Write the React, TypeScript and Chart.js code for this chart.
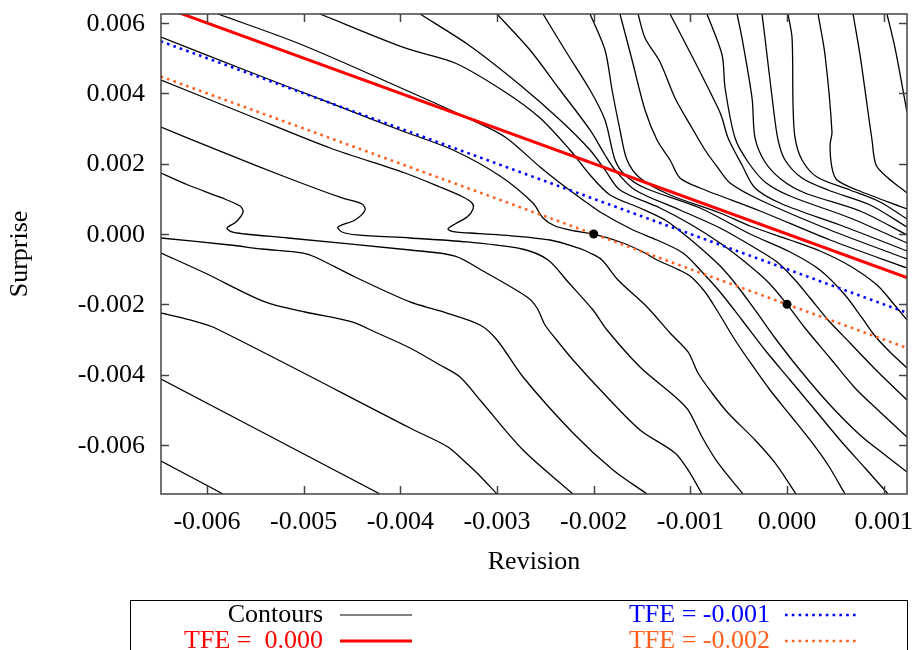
import React, { useEffect, useRef } from 'react';
import { Chart, registerables } from 'chart.js';

Chart.register(...registerables);

// ---------------- data ----------------
const xTickValues = [-0.006, -0.005, -0.004, -0.003, -0.002, -0.001, 0, 0.001];
const yTickValues = [-0.006, -0.004, -0.002, 0, 0.002, 0.004, 0.006];
const xRange = [-6.476e-3, 1.241e-3];
const yRange = [-7.393e-3, 6.255e-3];
const xTitle = 'Revision';
const yTitle = 'Surprise';

const contourLabel = 'Contours';
const tfeLabels = ['TFE =  0.000', 'TFE = -0.001', 'TFE = -0.002'];

const tfeZero = [[-6.48e-3, 6.48e-3], [1.25e-3, -1.25e-3]];
const tfeMinus001 = [[-6.48e-3, 5.48e-3], [1.25e-3, -2.25e-3]];
const tfeMinus002 = [[-6.48e-3, 4.48e-3], [1.25e-3, -3.25e-3]];
const optimumPoints = [[-2.0e-3, 0.0], [0.0, -2.0e-3]];

const contour01 = [[-6.476e-3, -6.454e-3], [-5.834e-3, -7.393e-3]];
const contour02 = [[-6.476e-3, -4.123e-3], [-4.210e-3, -7.393e-3]];
const contour03 = [[-6.476e-3, -2.246e-3], [-6.176e-3, -2.445e-3], [-5.917e-3, -2.673e-3], [-3.900e-3, -5.516e-3], [-3.507e-3, -6.056e-3], [-3.352e-3, -6.426e-3], [-3.207e-3, -6.796e-3], [-3.000e-3, -7.393e-3]];
const contour04 = [[-6.476e-3, -0.540e-3], [-6.021e-3, -1.109e-3], [-5.400e-3, -1.933e-3], [-4.986e-3, -2.218e-3], [-4.500e-3, -2.502e-3], [-4.262e-3, -2.787e-3], [-3.900e-3, -3.241e-3], [-3.590e-3, -3.725e-3], [-3.383e-3, -4.066e-3], [-3.176e-3, -4.720e-3], [-2.731e-3, -6.142e-3], [-2.214e-3, -7.393e-3]];
const contour05 = [[-6.476e-3, -0.114e-3], [-5.762e-3, -0.313e-3], [-5.431e-3, -0.427e-3], [-5.017e-3, -0.540e-3], [-4.883e-3, -0.654e-3], [-4.469e-3, -1.223e-3], [-3.900e-3, -1.933e-3], [-3.590e-3, -2.189e-3], [-3.176e-3, -2.587e-3], [-3.000e-3, -3.014e-3], [-2.731e-3, -4.066e-3], [-2.214e-3, -5.658e-3], [-1.800e-3, -6.710e-3], [-1.448e-3, -7.393e-3]];
const contour06 = [[-6.476e-3, 1.734e-3], [-6.196e-3, 1.393e-3], [-5.845e-3, 1.024e-3], [-5.658e-3, 0.796e-3], [-5.627e-3, 0.626e-3], [-5.700e-3, 0.341e-3], [-5.793e-3, 0.171e-3], [-5.741e-3, 0.057e-3], [-5.607e-3, 0.000e-3], [-5.162e-3, -0.114e-3], [-3.900e-3, -0.455e-3], [-3.434e-3, -0.626e-3], [-3.145e-3, -1.052e-3], [-2.690e-3, -1.791e-3], [-2.586e-3, -2.104e-3], [-2.503e-3, -2.587e-3], [-2.400e-3, -2.957e-3], [-2.214e-3, -3.583e-3], [-1.862e-3, -4.635e-3], [-1.521e-3, -5.573e-3], [-1.159e-3, -6.227e-3], [-1.024e-3, -6.710e-3], [-0.879e-3, -7.393e-3]];
const contour07 = [[-6.476e-3, 3.042e-3], [-5.845e-3, 2.332e-3], [-5.162e-3, 1.592e-3], [-4.603e-3, 1.024e-3], [-4.396e-3, 0.853e-3], [-4.365e-3, 0.682e-3], [-4.469e-3, 0.398e-3], [-4.645e-3, 0.199e-3], [-4.603e-3, 0.057e-3], [-4.448e-3, -0.028e-3], [-3.900e-3, -0.114e-3], [-3.310e-3, -0.227e-3], [-2.741e-3, -0.427e-3], [-2.472e-3, -0.739e-3], [-2.265e-3, -1.365e-3], [-2.007e-3, -2.161e-3], [-1.862e-3, -2.730e-3], [-1.521e-3, -3.782e-3], [-1.179e-3, -4.578e-3], [-1.024e-3, -5.004e-3], [-0.879e-3, -5.772e-3], [-0.714e-3, -6.511e-3], [-0.455e-3, -7.393e-3]];
const contour08 = [[-6.476e-3, 4.379e-3], [-5.555e-3, 3.355e-3], [-4.727e-3, 2.445e-3], [-3.952e-3, 1.734e-3], [-3.590e-3, 1.336e-3], [-3.352e-3, 1.052e-3], [-3.259e-3, 0.881e-3], [-3.248e-3, 0.711e-3], [-3.310e-3, 0.483e-3], [-3.434e-3, 0.284e-3], [-3.507e-3, 0.142e-3], [-3.434e-3, 0.057e-3], [-3.279e-3, 0.028e-3], [-2.969e-3, -0.028e-3], [-2.452e-3, -0.171e-3], [-2.162e-3, -0.398e-3], [-2.038e-3, -0.540e-3], [-1.914e-3, -0.739e-3], [-1.748e-3, -1.308e-3], [-1.448e-3, -2.076e-3], [-1.210e-3, -2.815e-3], [-1.024e-3, -3.355e-3], [-0.921e-3, -3.952e-3], [-0.776e-3, -4.521e-3], [-0.610e-3, -5.090e-3], [-0.331e-3, -5.857e-3], [-0.124e-3, -6.511e-3], [0.093e-3, -7.393e-3]];
const contour09 = [[-6.476e-3, 5.601e-3], [-5.555e-3, 4.606e-3], [-4.727e-3, 3.725e-3], [-3.952e-3, 2.900e-3], [-3.455e-3, 2.388e-3], [-2.969e-3, 1.649e-3], [-2.628e-3, 0.881e-3], [-2.524e-3, 0.455e-3], [-2.400e-3, 0.227e-3], [-2.193e-3, 0.085e-3], [-2.007e-3, 0.000e-3], [-1.697e-3, -0.256e-3], [-1.490e-3, -0.512e-3], [-1.345e-3, -0.739e-3], [-1.159e-3, -0.967e-3], [-1.003e-3, -1.194e-3], [-0.848e-3, -1.649e-3], [-0.714e-3, -2.218e-3], [-0.538e-3, -3.014e-3], [-0.362e-3, -3.725e-3], [-0.176e-3, -4.436e-3], [0.031e-3, -5.146e-3], [0.238e-3, -5.857e-3], [0.424e-3, -6.568e-3], [0.600e-3, -7.393e-3]];
const contour10 = [[-5.886e-3, 6.255e-3], [-5.038e-3, 5.402e-3], [-3.900e-3, 4.038e-3], [-3.259e-3, 3.241e-3], [-2.917e-3, 2.758e-3], [-2.555e-3, 1.905e-3], [-2.348e-3, 1.450e-3], [-2.110e-3, 0.967e-3], [-1.934e-3, 0.626e-3], [-1.593e-3, 0.114e-3], [-1.345e-3, -0.171e-3], [-1.076e-3, -0.540e-3], [-0.879e-3, -1.080e-3], [-0.693e-3, -1.649e-3], [-0.466e-3, -2.445e-3], [-0.228e-3, -3.298e-3], [0.031e-3, -4.151e-3], [0.290e-3, -5.004e-3], [0.548e-3, -5.857e-3], [0.807e-3, -6.653e-3], [1.045e-3, -7.393e-3]];
const contour11 = [[-4.831e-3, 6.255e-3], [-3.952e-3, 5.289e-3], [-3.434e-3, 4.862e-3], [-2.917e-3, 4.038e-3], [-2.555e-3, 3.298e-3], [-2.245e-3, 2.388e-3], [-2.038e-3, 1.678e-3], [-1.831e-3, 1.109e-3], [-1.521e-3, 0.739e-3], [-1.262e-3, 0.398e-3], [-1.055e-3, -0.028e-3], [-0.848e-3, -0.512e-3], [-0.672e-3, -0.967e-3], [-0.507e-3, -1.507e-3], [-0.331e-3, -2.161e-3], [-0.124e-3, -2.957e-3], [0.134e-3, -3.867e-3], [0.445e-3, -4.862e-3], [0.755e-3, -5.715e-3], [1.014e-3, -6.284e-3], [1.241e-3, -6.767e-3]];
const contour12 = [[-3.796e-3, 6.255e-3], [-3.279e-3, 5.346e-3], [-2.762e-3, 4.237e-3], [-2.348e-3, 3.241e-3], [-2.038e-3, 2.388e-3], [-1.883e-3, 1.820e-3], [-1.728e-3, 1.251e-3], [-1.314e-3, 0.739e-3], [-1.003e-3, 0.284e-3], [-0.693e-3, -0.256e-3], [-0.434e-3, -0.796e-3], [-0.197e-3, -1.365e-3], [0.000e-3, -2.000e-3], [0.186e-3, -2.673e-3], [0.445e-3, -3.526e-3], [0.703e-3, -4.379e-3], [0.962e-3, -5.061e-3], [1.241e-3, -5.772e-3]];
const contour13 = [[-3.000e-3, 6.255e-3], [-2.659e-3, 5.232e-3], [-2.348e-3, 4.094e-3], [-2.038e-3, 2.957e-3], [-1.883e-3, 2.246e-3], [-1.779e-3, 1.820e-3], [-1.572e-3, 1.251e-3], [-1.107e-3, 0.682e-3], [-0.693e-3, 0.171e-3], [-0.383e-3, -0.313e-3], [-0.103e-3, -0.796e-3], [0.083e-3, -1.308e-3], [0.238e-3, -1.820e-3], [0.424e-3, -2.445e-3], [0.652e-3, -3.099e-3], [0.941e-3, -3.924e-3], [1.241e-3, -4.720e-3]];
const contour14 = [[-2.524e-3, 6.255e-3], [-2.297e-3, 5.232e-3], [-2.038e-3, 4.094e-3], [-1.883e-3, 3.241e-3], [-1.779e-3, 2.104e-3], [-1.676e-3, 1.678e-3], [-1.469e-3, 1.308e-3], [-0.900e-3, 0.739e-3], [-0.383e-3, 0.000e-3], [0.031e-3, -0.512e-3], [0.341e-3, -1.024e-3], [0.600e-3, -1.734e-3], [0.776e-3, -2.388e-3], [0.910e-3, -2.900e-3], [1.065e-3, -3.355e-3], [1.241e-3, -3.810e-3]];
const contour15 = [[-2.038e-3, 6.255e-3], [-1.883e-3, 5.232e-3], [-1.810e-3, 4.094e-3], [-1.728e-3, 2.957e-3], [-1.655e-3, 2.104e-3], [-1.521e-3, 1.592e-3], [-1.210e-3, 1.109e-3], [-0.693e-3, 0.597e-3], [-0.383e-3, 0.227e-3], [0.031e-3, -0.171e-3], [0.341e-3, -0.483e-3], [0.652e-3, -0.910e-3], [0.931e-3, -1.450e-3], [1.086e-3, -1.933e-3], [1.241e-3, -2.445e-3]];
const contour16 = [[-1.728e-3, 6.255e-3], [-1.603e-3, 4.947e-3], [-1.469e-3, 3.526e-3], [-1.345e-3, 2.673e-3], [-1.210e-3, 2.104e-3], [-1.107e-3, 1.592e-3], [-0.900e-3, 1.308e-3], [-0.279e-3, 0.654e-3], [0.445e-3, -0.171e-3], [1.241e-3, -0.967e-3]];
const contour17 = [[-1.541e-3, 6.255e-3], [-1.469e-3, 5.573e-3], [-1.314e-3, 4.891e-3], [-1.159e-3, 3.867e-3], [-0.983e-3, 3.014e-3], [-0.848e-3, 2.388e-3], [-0.714e-3, 1.877e-3], [-0.590e-3, 1.450e-3], [-0.279e-3, 0.967e-3], [0.445e-3, 0.114e-3], [1.241e-3, -0.711e-3]];
const contour18 = [[-1.210e-3, 6.255e-3], [-0.952e-3, 4.891e-3], [-0.714e-3, 3.583e-3], [-0.672e-3, 3.298e-3], [-0.610e-3, 2.730e-3], [-0.466e-3, 1.962e-3], [-0.331e-3, 1.308e-3], [-0.052e-3, 0.853e-3], [0.548e-3, 0.256e-3], [1.241e-3, -0.483e-3]];
const contour19 = [[-0.828e-3, 6.255e-3], [-0.672e-3, 5.090e-3], [-0.641e-3, 4.151e-3], [-0.538e-3, 2.730e-3], [-0.403e-3, 2.047e-3], [-0.228e-3, 1.479e-3], [0.031e-3, 1.080e-3], [0.652e-3, 0.455e-3], [1.241e-3, -0.256e-3]];
const contour20 = [[-0.517e-3, 6.255e-3], [-0.466e-3, 5.573e-3], [-0.362e-3, 3.867e-3], [-0.331e-3, 2.730e-3], [-0.228e-3, 2.047e-3], [-0.052e-3, 1.535e-3], [0.186e-3, 1.166e-3], [0.755e-3, 0.654e-3], [1.241e-3, -0.028e-3]];
const contour21 = [[-0.259e-3, 6.255e-3], [-0.228e-3, 5.573e-3], [-0.145e-3, 3.668e-3], [-0.093e-3, 2.673e-3], [-0.021e-3, 2.104e-3], [0.155e-3, 1.592e-3], [0.424e-3, 1.251e-3], [0.859e-3, 0.825e-3], [1.241e-3, 0.199e-3]];
const contour22 = [[0.010e-3, 6.255e-3], [0.052e-3, 5.573e-3], [0.062e-3, 3.668e-3], [0.083e-3, 2.730e-3], [0.155e-3, 2.104e-3], [0.310e-3, 1.621e-3], [0.652e-3, 1.251e-3], [0.962e-3, 0.910e-3], [1.241e-3, 0.426e-3]];
const contour23 = [[0.321e-3, 6.255e-3], [0.393e-3, 5.090e-3], [0.465e-3, 2.900e-3], [0.445e-3, 2.531e-3], [0.465e-3, 1.877e-3], [0.517e-3, 1.535e-3], [0.724e-3, 1.251e-3], [1.241e-3, 0.711e-3]];
const contour24 = [[0.683e-3, 6.255e-3], [0.755e-3, 5.090e-3], [0.828e-3, 3.668e-3], [0.879e-3, 2.673e-3], [0.921e-3, 1.962e-3], [1.045e-3, 1.592e-3], [1.241e-3, 1.166e-3]];
const contour25 = [[1.034e-3, 6.255e-3], [1.117e-3, 5.289e-3], [1.241e-3, 3.469e-3]];

const contours = [
  contour01, contour02, contour03, contour04, contour05, contour06, contour07, contour08, contour09,
  contour10, contour11, contour12, contour13, contour14, contour15, contour16, contour17, contour18,
  contour19, contour20, contour21, contour22, contour23, contour24, contour25,
];

// ---------------- styles ----------------
const FONT = '26px "Liberation Serif", "Times New Roman", serif';
const RED = '#ff0000';
const BLUE = '#0000ff';
const ORANGE = '#ff6020';
const AXIS_GRAY = '#444444';
const DOT_DASH = [2.6, 4.2];

const toXY = (pts: number[][]) => pts.map(([x, y]) => ({ x, y }));

const decorPlugin = {
  id: 'decor',
  afterDatasetsDraw(chart: any) {
    const { ctx, chartArea: a } = chart;
    const xs = chart.scales.x;
    const ys = chart.scales.y;
    ctx.save();
    // frame and inward ticks
    ctx.strokeStyle = AXIS_GRAY;
    ctx.lineWidth = 1.5;
    ctx.setLineDash([]);
    ctx.strokeRect(a.left, a.top, a.right - a.left, a.bottom - a.top);
    ctx.beginPath();
    xTickValues.forEach((v) => {
      const px = Math.round(xs.getPixelForValue(v)) + 0.5;
      ctx.moveTo(px, a.bottom); ctx.lineTo(px, a.bottom - 8);
      ctx.moveTo(px, a.top); ctx.lineTo(px, a.top + 8);
    });
    yTickValues.forEach((v) => {
      const py = Math.round(ys.getPixelForValue(v)) + 0.5;
      ctx.moveTo(a.left, py); ctx.lineTo(a.left + 8, py);
      ctx.moveTo(a.right, py); ctx.lineTo(a.right - 8, py);
    });
    ctx.stroke();

    // tick labels
    ctx.fillStyle = '#000';
    ctx.font = FONT;
    ctx.textBaseline = 'middle';
    ctx.textAlign = 'center';
    xTickValues.forEach((v) => ctx.fillText(v.toFixed(3), xs.getPixelForValue(v), a.bottom + 28));
    ctx.textAlign = 'right';
    yTickValues.forEach((v) => ctx.fillText(v.toFixed(3), a.left - 16, ys.getPixelForValue(v) + 1));

    // axis titles
    ctx.textAlign = 'center';
    ctx.fillText(xTitle, (a.left + a.right) / 2, a.bottom + 68);
    ctx.save();
    ctx.translate(20, (a.top + a.bottom) / 2);
    ctx.rotate(-Math.PI / 2);
    ctx.fillText(yTitle, 0, 0);
    ctx.restore();

    // legend
    ctx.lineWidth = 1;
    ctx.strokeStyle = '#000';
    ctx.strokeRect(130.5, 600.5, 777, 90);
    const rows = [
      { label: contourLabel, color: '#000', tx: 323, x0: 340, x1: 412, y: 615, w: 1.2, dash: [] as number[] },
      { label: tfeLabels[0], color: RED, tx: 323, x0: 340, x1: 412, y: 641, w: 3, dash: [] as number[] },
      { label: tfeLabels[1], color: BLUE, tx: 770, x0: 785, x1: 858, y: 615, w: 2.6, dash: DOT_DASH },
      { label: tfeLabels[2], color: ORANGE, tx: 770, x0: 785, x1: 858, y: 641, w: 2.6, dash: DOT_DASH },
    ];
    rows.forEach((r) => {
      ctx.fillStyle = r.color;
      ctx.textAlign = 'right';
      ctx.fillText(r.label, r.tx, r.y);
      ctx.beginPath();
      ctx.strokeStyle = r.color;
      ctx.lineWidth = r.w;
      ctx.setLineDash(r.dash);
      ctx.moveTo(r.x0, r.y);
      ctx.lineTo(r.x1, r.y);
      ctx.stroke();
    });
    ctx.restore();
  },
};

export default function App() {
  const canvasRef = useRef<HTMLCanvasElement | null>(null);

  useEffect(() => {
    const canvas = canvasRef.current;
    if (!canvas) return;
    const datasets: any[] = [
      {
        label: 'optimum',
        data: toXY(optimumPoints),
        showLine: false,
        pointRadius: 4.5,
        pointBackgroundColor: '#000',
        pointBorderColor: '#000',
        pointBorderWidth: 0,
        order: 0,
      },
      {
        label: tfeLabels[0],
        data: toXY(tfeZero),
        showLine: true,
        borderColor: RED,
        borderWidth: 3,
        pointRadius: 0,
        order: 1,
      },
      {
        label: tfeLabels[1],
        data: toXY(tfeMinus001),
        showLine: true,
        borderColor: BLUE,
        borderWidth: 2.6,
        borderDash: DOT_DASH,
        pointRadius: 0,
        order: 1,
      },
      {
        label: tfeLabels[2],
        data: toXY(tfeMinus002),
        showLine: true,
        borderColor: ORANGE,
        borderWidth: 2.6,
        borderDash: DOT_DASH,
        pointRadius: 0,
        order: 1,
      },
      ...contours.map((c, i) => ({
        label: `${contourLabel} ${i + 1}`,
        data: toXY(c),
        showLine: true,
        borderColor: '#000',
        borderWidth: 1.3,
        pointRadius: 0,
        tension: 0.3,
        order: 3,
      })),
    ];

    const chart = new Chart(canvas, {
      type: 'scatter',
      data: { datasets },
      options: {
        animation: false,
        responsive: false,
        devicePixelRatio: 1,
        events: [],
        layout: { padding: { top: 14, right: 9, left: 0, bottom: 0 } },
        plugins: { legend: { display: false }, tooltip: { enabled: false } },
        scales: {
          x: {
            type: 'linear',
            min: xRange[0],
            max: xRange[1],
            grid: { display: false, drawTicks: false },
            border: { display: false },
            ticks: { display: false },
            afterBuildTicks: (s: any) => { s.ticks = xTickValues.map((v) => ({ value: v })); },
            afterFit: (s: any) => { s.height = 156; },
          },
          y: {
            type: 'linear',
            min: yRange[0],
            max: yRange[1],
            grid: { display: false, drawTicks: false },
            border: { display: false },
            ticks: { display: false },
            afterBuildTicks: (s: any) => { s.ticks = yTickValues.map((v) => ({ value: v })); },
            afterFit: (s: any) => { s.width = 161; },
          },
        },
      } as any,
      plugins: [decorPlugin],
    });
    return () => chart.destroy();
  }, []);

  return (
    <div style={{ position: 'fixed', left: 0, top: 0, width: 916, height: 650, background: '#fff' }}>
      <canvas ref={canvasRef} width={916} height={650} style={{ width: 916, height: 650, display: 'block' }} />
    </div>
  );
}
